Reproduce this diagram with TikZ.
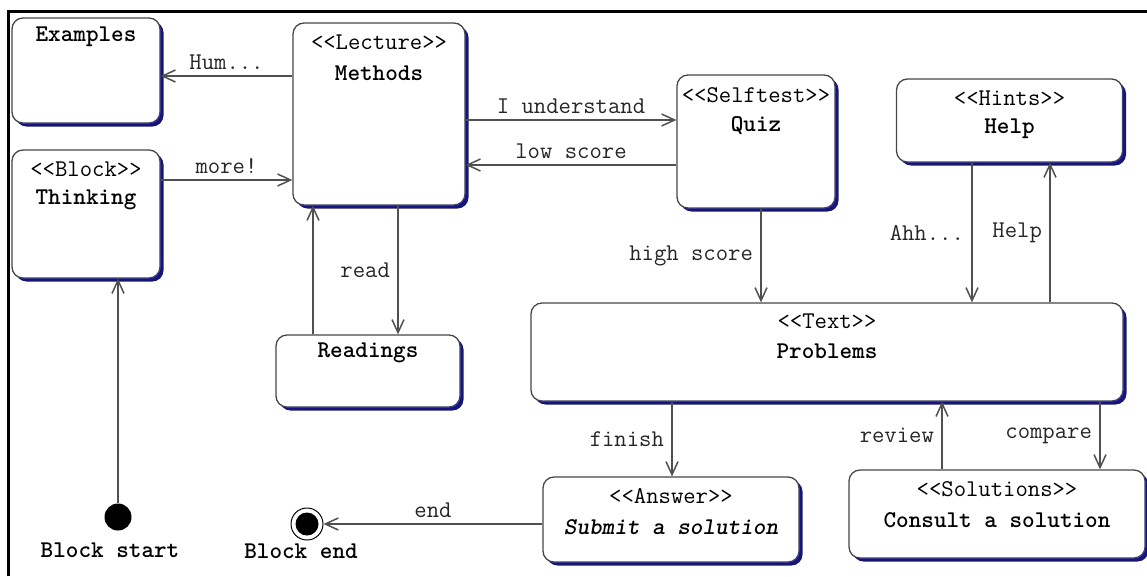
\documentclass[tikz,border=0pt]{standalone}
\usepackage{tikz}
\usetikzlibrary{arrows.meta,shadows}

\definecolor{shadowblue}{RGB}{20,20,135}
\definecolor{edgegray}{RGB}{70,70,70}
\definecolor{linegray}{RGB}{80,80,80}

\begin{document}
\begin{tikzpicture}[x=1pt,y=-1pt,
        state/.style={draw=edgegray, line width=1.3pt, fill=white, rounded corners=11pt,
            inner sep=0pt,
            drop shadow={shadow xshift=3.5pt, shadow yshift=-3.5pt, fill=shadowblue, opacity=1}},
        title/.style={font={\fontsize{24}{28}\selectfont\ttfamily\bfseries}, inner sep=0pt},
        stereo/.style={font={\fontsize{24}{28}\selectfont\ttfamily}, inner sep=0pt},
        trans/.style={draw=linegray, line width=1.5pt,
            -{Straight Barb[length=13pt,width=12pt]}},
        guard/.style={font={\fontsize{24}{28}\selectfont\ttfamily}, text=black!85}]

    \useasboundingbox (0,0) rectangle (1147,576);

    % frame
    \draw[line width=3pt] (8,576) -- (8,11) -- (1147,11);

    % states
    \node[state, minimum width=148pt, minimum height=105pt] (examples) at (86,70.5) {};
    \node[state, minimum width=148pt, minimum height=128pt] (thinking) at (86,214) {};
    \node[state, minimum width=172pt, minimum height=182pt] (methods) at (379,114) {};
    \node[state, minimum width=158pt, minimum height=133pt] (quiz) at (756,141.5) {};
    \node[state, minimum width=226pt, minimum height=83pt] (help) at (1009.5,120.5) {};
    \node[state, minimum width=592pt, minimum height=98pt] (problems) at (827,352) {};
    \node[state, minimum width=184pt, minimum height=72pt] (readings) at (368,371) {};
    \node[state, minimum width=256pt, minimum height=85pt] (answer) at (671,519.5) {};
    \node[state, minimum width=296pt, minimum height=88pt] (solutions) at (997,514) {};

    % texts of the states
    \node[title] (examples-t) at ([yshift=-19pt]examples.north) {Examples};
    \node[stereo] (thinking-s) at ([yshift=-20pt]thinking.north) {<\kern0pt<Block>\kern0pt>};
    \node[title] (thinking-t) at ([yshift=-50pt]thinking.north) {Thinking};
    \node[stereo] (methods-s) at ([yshift=-20pt]methods.north) {<\kern0pt<Lecture>\kern0pt>};
    \node[title] (methods-t) at ([yshift=-51pt]methods.north) {Methods};
    \node[stereo] (quiz-s) at ([yshift=-21pt]quiz.north) {<\kern0pt<Selftest>\kern0pt>};
    \node[title] (quiz-t) at ([yshift=-51pt]quiz.north) {Quiz};
    \node[stereo] (help-s) at ([yshift=-20pt]help.north) {<\kern0pt<Hints>\kern0pt>};
    \node[title] (help-t) at ([yshift=-50pt]help.north) {Help};
    \node[stereo] (problems-s) at ([yshift=-19pt]problems.north) {<\kern0pt<Text>\kern0pt>};
    \node[title] (problems-t) at ([yshift=-49pt]problems.north) {Problems};
    \node[title] (readings-t) at ([yshift=-18pt]readings.north) {Readings};
    \node[stereo] (answer-s) at ([yshift=-20pt]answer.north) {<\kern0pt<Answer>\kern0pt>};
    \node[title] (answer-t) at ([yshift=-51pt]answer.north) {\slshape Submit a solution};
    \node[stereo] (solutions-s) at ([yshift=-20pt]solutions.north) {<\kern0pt<Solutions>\kern0pt>};
    \node[title] (solutions-t) at ([yshift=-51pt]solutions.north) {Consult a solution};

    % pseudo states
    \node[circle, fill=black, minimum size=27pt, inner sep=0pt] (start) at (118,517) {};
    \node[circle, draw=black, line width=1pt, minimum size=32pt, inner sep=0pt] (stop) at (307,524) {};
    \fill (stop) circle (11.5);
    \node[title] (start-t) at (110,550) {Block start};
    \node[title] (stop-t) at (301,551) {Block end};

    % transitions
    \draw[trans] (methods.west |- 0,76) -- node[guard, above=2pt] {Hum...} (examples.east |- 0,76);
    \draw[trans] (thinking.east |- 0,180) -- node[guard, above=2pt] {more!} (methods.west |- 0,180);
    \draw[trans] (methods.east |- 0,120) -- node[guard, above=2pt] {I understand} (quiz.west |- 0,120);
    \draw[trans] (quiz.west |- 0,165) -- node[guard, above=2pt] {low score} (methods.east |- 0,165);
    \draw[trans] (methods.south -| 398,0) -- node[guard, left=4pt] {read} (readings.north -| 398,0);
    \draw[trans] (readings.north -| 313,0) -- (methods.south -| 313,0);
    \draw[trans] (start) -- (thinking.south -| start);
    \draw[trans] (quiz.south -| 761,0) -- node[guard, left=4pt] {high score} (problems.north -| 761,0);
    \draw[trans] (help.south -| 972,0) -- node[guard, left=4pt] {Ahh...} (problems.north -| 972,0);
    \draw[trans] (problems.north -| 1050,0) -- node[guard, left=4pt] {Help} (help.south -| 1050,0);
    \draw[trans] (problems.south -| 672,0) -- node[guard, left=4pt] {finish} (answer.north -| 672,0);
    \draw[trans] (solutions.north -| 942,0) -- node[guard, left=4pt] {review} (problems.south -| 942,0);
    \draw[trans] (problems.south -| 1100,0) -- node[guard, left=4pt] {compare} (solutions.north -| 1100,0);
    \draw[trans] (answer.west |- stop) -- node[guard, above=2pt] {end} (stop);
\end{tikzpicture}
\end{document}
